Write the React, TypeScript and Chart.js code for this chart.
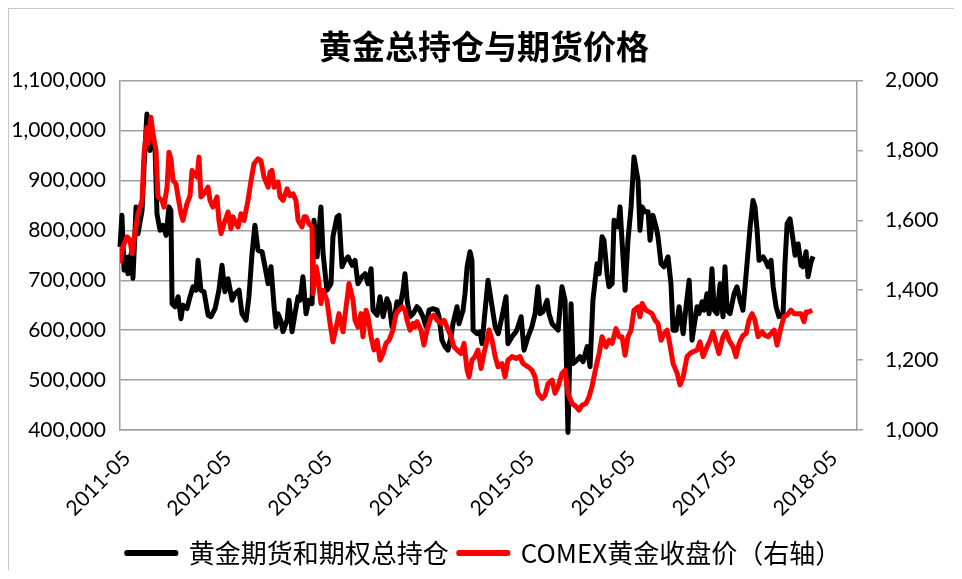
import React, { useEffect, useRef } from 'react';
import { Chart, registerables } from 'chart.js';

Chart.register(...registerables);

// x values are weeks elapsed since 2011-05
const xTickLabels = ['2011-05', '2012-05', '2013-05', '2014-05', '2015-05', '2016-05', '2017-05', '2018-05'];
const WEEKS_PER_YEAR = 52.18;
const X_MAX_WEEKS = 380.7;

const openInterestWeeks = [0.0,1.0,2.1,3.6,4.1,5.7,6.7,8.3,9.3,11.4,12.4,13.9,15.5,16.5,18.1,19.1,20.7,22.2,23.8,25.3,26.3,26.9,28.4,30.0,31.5,32.5,34.6,36.2,37.7,39.3,40.3,41.8,43.4,45.5,47.0,49.1,51.1,52.7,54.2,55.8,57.9,59.4,61.5,63.0,65.1,66.6,68.2,69.7,71.3,73.4,74.9,76.5,78.0,79.6,80.6,81.6,83.2,84.2,86.3,87.3,88.9,90.4,92.0,93.0,94.5,96.1,97.6,99.2,100.2,101.8,103.8,104.9,106.9,109.0,110.0,112.1,113.1,114.7,116.2,117.8,119.9,121.4,122.9,125.0,126.6,128.1,129.7,130.7,132.8,134.3,135.9,137.9,139.0,140.5,142.1,143.1,144.6,146.2,147.2,148.3,149.8,151.4,153.4,154.5,156.5,158.1,159.6,161.7,163.8,164.8,166.3,167.9,169.4,171.0,172.0,174.1,175.1,177.2,178.2,179.3,180.8,181.8,182.4,184.4,186.0,187.0,188.6,190.1,192.2,193.8,195.4,197.3,199.4,200.4,202.5,204.6,205.6,207.2,208.7,210.8,212.8,214.4,215.9,217.0,218.5,220.6,221.6,223.2,224.7,226.3,228.3,229.9,231.4,233.0,234.0,236.1,237.6,239.2,241.3,242.8,244.3,246.4,247.5,249.0,250.0,251.6,252.6,254.2,255.2,257.3,258.3,259.3,260.9,262.4,264.0,265.5,267.6,268.6,269.7,271.2,272.8,273.8,275.3,276.9,277.9,279.5,281.0,283.1,284.6,285.7,287.2,288.8,290.9,292.4,294.0,295.5,296.5,298.1,299.1,300.7,301.7,303.2,304.3,305.8,306.9,308.4,310.0,311.5,312.5,313.6,315.1,317.2,318.7,320.3,321.8,323.9,325.5,327.0,328.0,329.1,330.1,332.2,333.7,334.8,336.3,337.4,338.9,340.4,342.5,343.5,344.6,346.1,347.7,348.7,350.3,351.8,352.8,354.4,355.4,357.0,358.0];
const openInterestValues = [767000,830000,720000,746000,713000,753000,704000,847000,793000,840000,927000,1033000,960000,993000,967000,833000,800000,810000,790000,847000,840000,653000,647000,667000,623000,650000,643000,667000,687000,680000,740000,680000,677000,630000,627000,643000,680000,730000,677000,703000,660000,673000,680000,633000,620000,667000,753000,810000,760000,757000,727000,693000,727000,647000,607000,633000,617000,597000,620000,660000,597000,633000,667000,660000,707000,633000,660000,653000,820000,747000,847000,753000,680000,693000,787000,827000,830000,727000,740000,747000,730000,740000,693000,707000,713000,693000,723000,640000,630000,667000,627000,663000,653000,607000,633000,657000,647000,680000,713000,660000,627000,633000,647000,643000,627000,607000,640000,643000,640000,627000,580000,567000,560000,587000,613000,647000,613000,640000,673000,727000,757000,740000,600000,593000,597000,573000,640000,700000,647000,607000,593000,627000,667000,573000,587000,597000,607000,627000,560000,587000,607000,633000,687000,633000,637000,660000,633000,613000,607000,600000,687000,660000,395000,653000,533000,540000,547000,537000,567000,527000,660000,733000,713000,787000,780000,713000,687000,693000,820000,807000,847000,780000,680000,780000,847000,947000,900000,800000,847000,837000,837000,780000,830000,807000,787000,733000,727000,747000,693000,600000,600000,647000,593000,647000,700000,580000,607000,647000,633000,657000,640000,673000,633000,723000,640000,633000,693000,627000,727000,640000,633000,673000,687000,660000,640000,733000,807000,860000,847000,800000,740000,747000,737000,727000,740000,687000,647000,627000,633000,733000,813000,823000,780000,750000,773000,730000,727000,757000,707000,737000,748000];

const goldWeeks = [0.0,1.5,3.6,5.2,6.2,7.7,9.3,11.4,12.4,13.9,14.5,16.0,17.0,18.6,19.6,21.7,22.7,24.3,25.3,26.3,27.4,28.9,30.0,31.5,32.5,34.6,36.2,37.2,38.2,39.8,40.8,41.8,43.4,45.5,46.5,48.0,50.1,51.1,52.2,53.7,55.8,57.3,58.4,59.9,61.0,62.5,64.1,66.1,67.7,69.2,71.3,72.8,74.4,76.5,77.5,78.5,79.6,81.6,82.7,84.2,86.3,87.8,89.4,90.9,92.0,94.0,95.1,96.1,97.6,99.2,99.7,101.3,102.3,103.8,104.9,106.9,108.5,110.0,112.1,113.1,115.2,116.8,118.3,120.4,121.4,122.9,124.5,125.5,127.1,128.1,129.7,131.2,132.8,134.3,135.9,137.4,139.0,141.0,142.6,144.1,145.7,147.2,148.3,149.8,151.4,152.4,153.4,155.5,157.0,158.6,160.7,162.2,163.8,165.8,167.4,168.9,171.0,172.5,174.1,176.2,177.7,179.3,180.3,181.8,183.4,184.9,186.5,188.0,189.6,190.6,192.2,193.8,195.3,197.3,198.9,200.4,202.5,204.6,206.6,208.2,210.8,212.8,214.4,215.9,218.0,219.6,221.1,223.2,224.7,226.3,228.3,229.9,231.4,233.5,235.6,237.1,238.7,240.7,242.3,243.8,245.9,247.5,249.0,251.1,252.6,254.2,256.2,257.8,259.3,260.9,262.4,264.0,265.5,267.6,268.6,269.7,271.7,273.3,274.8,276.4,277.9,279.5,281.0,282.6,284.1,285.7,287.8,289.3,290.9,292.9,294.5,296.0,298.1,299.6,301.2,303.2,304.8,306.3,307.9,309.4,311.5,313.0,314.6,316.7,318.2,319.8,321.8,323.4,324.9,326.5,328.0,329.6,331.7,333.2,334.8,336.3,337.9,339.4,341.5,343.0,344.6,346.6,348.2,349.7,351.8,353.3,354.4,355.9,357.5];
const goldPrices = [1477,1524,1553,1543,1505,1562,1619,1657,1790,1866,1819,1895,1848,1800,1667,1657,1638,1695,1795,1776,1714,1705,1667,1619,1600,1648,1671,1743,1733,1724,1781,1667,1676,1695,1657,1638,1667,1600,1562,1590,1624,1576,1610,1590,1581,1619,1600,1657,1714,1762,1776,1771,1724,1695,1738,1743,1695,1710,1667,1657,1690,1671,1676,1657,1600,1581,1610,1610,1590,1581,1390,1467,1438,1362,1400,1371,1305,1252,1305,1333,1281,1352,1419,1371,1314,1295,1333,1267,1343,1324,1267,1229,1257,1200,1219,1248,1257,1286,1333,1343,1352,1343,1314,1286,1305,1295,1310,1286,1243,1286,1324,1329,1314,1305,1314,1295,1267,1238,1229,1219,1248,1171,1152,1200,1210,1229,1176,1219,1257,1286,1257,1210,1181,1190,1152,1200,1210,1205,1210,1190,1181,1171,1152,1105,1090,1100,1133,1143,1105,1124,1162,1171,1105,1076,1067,1057,1071,1076,1095,1124,1181,1219,1267,1238,1257,1248,1290,1267,1267,1214,1267,1286,1343,1352,1324,1362,1343,1338,1333,1314,1305,1257,1276,1286,1243,1190,1162,1129,1152,1210,1219,1224,1229,1252,1210,1238,1257,1281,1248,1219,1267,1281,1257,1238,1210,1248,1271,1276,1314,1333,1314,1267,1281,1271,1267,1276,1286,1243,1295,1324,1329,1343,1333,1333,1333,1310,1338,1338,1343];

const TITLE = '黄金总持仓与期货价格';
const SERIES_OI = '黄金期货和期权总持仓';
const SERIES_GOLD = 'COMEX黄金收盘价（右轴）';

const CJK = "'Noto Sans CJK SC', 'Noto Sans', sans-serif";
const TICK_FONT = { family: 'Lato, sans-serif', size: 21 };
const GRID = '#a0a0a0';

export default function App() {
  const ref = useRef<HTMLCanvasElement | null>(null);

  useEffect(() => {
    if (!ref.current) return;
    const chart = new Chart(ref.current, {
      type: 'line',
      data: {
        datasets: [
          {
            label: SERIES_OI,
            data: openInterestWeeks.map((w, i) => ({ x: w, y: openInterestValues[i] })),
            borderColor: '#000000',
            backgroundColor: '#000000',
            borderWidth: 5,
            pointRadius: 0,
            tension: 0,
            borderJoinStyle: 'round',
            borderCapStyle: 'butt',
            yAxisID: 'y',
            order: 1,
            clip: 8,
          },
          {
            label: SERIES_GOLD,
            data: goldWeeks.map((w, i) => ({ x: w, y: goldPrices[i] })),
            borderColor: '#ff0000',
            backgroundColor: '#ff0000',
            borderWidth: 5,
            pointRadius: 0,
            tension: 0,
            borderJoinStyle: 'round',
            borderCapStyle: 'butt',
            yAxisID: 'y1',
            order: 0,
          },
        ],
      },
      options: {
        animation: false,
        responsive: false,
        maintainAspectRatio: false,
        layout: { padding: { left: 0, right: 0, top: 0, bottom: 1 } },
        plugins: {
          title: {
            display: true,
            text: TITLE,
            color: '#000',
            font: { family: CJK, size: 33, weight: 'bold' },
            padding: { top: 18, bottom: 14 },
          },
          legend: {
            position: 'bottom',
            labels: {
              color: '#000',
              font: { family: CJK, size: 26 },
              boxWidth: 49,
              boxHeight: 1,
              padding: 10,
              sort: (a: any, b: any) => a.datasetIndex - b.datasetIndex,
            },
          },
          tooltip: { enabled: false },
        },
        scales: {
          x: {
            type: 'linear',
            min: 0,
            max: X_MAX_WEEKS,
            grid: { display: false },
            border: { display: true, color: GRID, width: 1.5 },
            afterBuildTicks: (s: any) => {
              s.ticks = xTickLabels.map((_, i) => ({ value: i * WEEKS_PER_YEAR }));
            },
            afterFit: (s: any) => {
              s.height = 100;
            },
            ticks: {
              autoSkip: false,
              minRotation: 45,
              maxRotation: 45,
              padding: 8,
              labelOffset: 7,
              color: '#000',
              font: TICK_FONT,
              callback: (_v: any, i: number) => xTickLabels[i],
            },
          },
          y: {
            type: 'linear',
            position: 'left',
            min: 400000,
            max: 1100000,
            grid: { color: GRID, lineWidth: 1.5, drawTicks: false },
            border: { display: true, color: GRID, width: 1.5 },
            afterFit: (s: any) => {
              s.width = 111;
            },
            ticks: {
              stepSize: 100000,
              padding: 14,
              color: '#000',
              font: TICK_FONT,
              callback: (v: any) => Number(v).toLocaleString('en-US'),
            },
          },
          y1: {
            type: 'linear',
            position: 'right',
            min: 1000,
            max: 2000,
            grid: { drawOnChartArea: false, color: GRID, lineWidth: 1.5, tickLength: 6 },
            border: { display: true, color: GRID, width: 1.5 },
            afterFit: (s: any) => {
              s.width = 102;
            },
            ticks: {
              stepSize: 200,
              padding: 22,
              color: '#000',
              font: TICK_FONT,
              callback: (v: any) => Number(v).toLocaleString('en-US'),
            },
          },
        },
      },
    } as any);
    return () => chart.destroy();
  }, []);

  return (
    <div
      style={{
        width: 950,
        height: 561,
        borderTop: '1px solid #c8c8c8',
        borderLeft: '1px solid #c8c8c8',
        overflow: 'hidden',
        background: '#fff',
      }}
    >
      <canvas ref={ref} width={950} height={568} style={{ display: 'block' }} />
    </div>
  );
}
